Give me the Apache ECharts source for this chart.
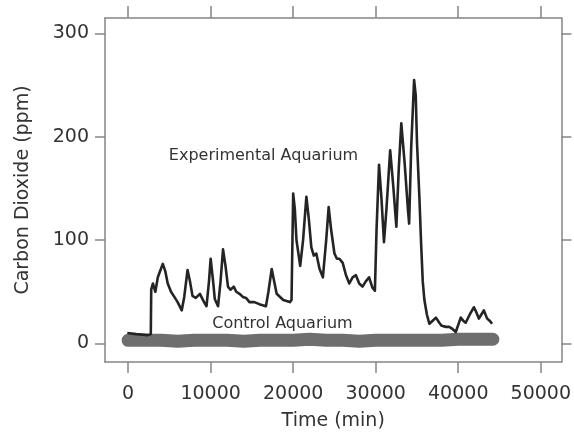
<!DOCTYPE html>
<html>
<head>
<meta charset="utf-8">
<script src="https://cdn.jsdelivr.net/npm/echarts@6/dist/echarts.min.js"></script>
<style>
  html, body { margin: 0; padding: 0; background: #fff; }
  #main { width: 574px; height: 438px; }
</style>
</head>
<body>
<div id="main"></div>
<script>
// 坐标刻度
const xTicks = [0, 10000, 20000, 30000, 40000, 50000];
const yTicks = [0, 100, 200, 300];

// Experimental Aquarium: [时间(min), CO2(ppm)]
const expTime = [-100, 1000, 2400, 2750, 2800, 3000, 3300, 3600, 4200, 4500, 4800, 5200,
  5600, 6000, 6500, 6800, 7200, 7500, 7800, 8200, 8700, 9200, 9500, 9800, 10000, 10300,
  10500, 10900, 11200, 11500, 11800, 12100, 12400, 12800, 13100, 13500, 13900, 14300,
  14700, 15300, 15900, 16700, 17000, 17400, 17700, 18000, 18800, 19600, 19800, 20000,
  20200, 20400, 20850, 21200, 21600, 21900, 22200, 22500, 22800, 23200, 23600, 24000,
  24300, 24600, 25000, 25300, 25600, 26000, 26400, 26800, 27200, 27600, 28000, 28400,
  28800, 29200, 29600, 29900, 30100, 30400, 30700, 31000, 31300, 31750, 32100, 32500,
  32800, 33100, 33500, 33900, 34050, 34300, 34650, 34850, 35000, 35300, 35500, 35700,
  35900, 36200, 36500, 36900, 37300, 37700, 38000, 38500, 38900, 39300, 39700, 40000,
  40300, 40600, 40900, 41400, 41900, 42200, 42500, 42800, 43100, 43500, 43800, 44100];
const expCO2 = [10, 9, 8, 9, 52, 58, 50, 64, 77, 70, 58, 50,
  45, 40, 32, 45, 71, 60, 46, 44, 48, 40, 36, 60, 82, 60,
  43, 36, 60, 91, 75, 55, 52, 55, 50, 48, 45, 44,
  40, 40, 38, 36, 50, 72, 60, 48, 42, 40, 42, 145,
  130, 100, 75, 100, 142, 120, 93, 85, 87, 72, 64, 100,
  132, 110, 87, 82, 82, 78, 66, 58, 64, 66, 58, 55,
  60, 64, 54, 51, 110, 173, 140, 98, 130, 187, 155, 113,
  170, 213, 175, 130, 116, 190, 255, 240, 195, 140, 97, 60,
  42, 28, 19, 22, 25, 20, 17, 16, 16, 14, 11, 18,
  25, 22, 20, 28, 35, 30, 24, 28, 32, 24, 22, 19];

// Control Aquarium
const ctrlTime = [0, 2000, 4000, 6000, 8000, 10000, 12000, 14000, 16000, 18000, 20000,
  22000, 24000, 26000, 28000, 30000, 32000, 34000, 36000, 38000, 40000, 42000, 44200];
const ctrlCO2 = [3, 3, 3, 2, 3, 3, 3, 2, 3, 3, 3,
  4, 3, 3, 2, 3, 3, 3, 3, 3, 4, 4, 4];

const expData = expTime.map((t, i) => [t, expCO2[i]]);
const ctrlData = ctrlTime.map((t, i) => [t, ctrlCO2[i]]);

const frame = { lineStyle: { color: '#858585', width: 1.5 } };
const font = 'DejaVu Sans';
const plain = (v) => String(v);

let myChart = echarts.init(document.getElementById('main'));
myChart.setOption({
  animation: false,
  backgroundColor: '#fff',
  grid: { left: 105, top: 18, right: 11, bottom: 76 },
  xAxis: [
    {
      type: 'value', min: -2800, max: 52500, position: 'bottom',
      name: 'Time (min)', nameLocation: 'middle', nameGap: 50,
      nameTextStyle: { fontFamily: font, fontSize: 19, color: '#333' },
      axisLine: { show: true, onZero: false, ...frame },
      axisTick: { show: true, customValues: xTicks, length: 11, ...frame },
      axisLabel: { customValues: xTicks, formatter: plain, margin: 23, fontFamily: font, fontSize: 19, color: '#333' },
      splitLine: { show: false }
    },
    {
      type: 'value', min: -2800, max: 52500, position: 'top',
      axisLine: { show: true, onZero: false, ...frame },
      axisTick: { show: true, customValues: xTicks, length: 12, ...frame },
      axisLabel: { show: false },
      splitLine: { show: false }
    }
  ],
  yAxis: [
    {
      type: 'value', min: -18, max: 315, position: 'left',
      name: 'Carbon Dioxide (ppm)', nameLocation: 'middle', nameGap: 72,
      nameTextStyle: { fontFamily: font, fontSize: 19, color: '#333' },
      axisLine: { show: true, onZero: false, ...frame },
      axisTick: { show: true, customValues: yTicks, length: 10, ...frame },
      axisLabel: { customValues: yTicks, formatter: plain, margin: 16, fontFamily: font, fontSize: 19, color: '#333' },
      splitLine: { show: false }
    },
    {
      type: 'value', min: -18, max: 315, position: 'right',
      axisLine: { show: true, onZero: false, ...frame },
      axisTick: { show: true, customValues: yTicks, length: 10, ...frame },
      axisLabel: { show: false },
      splitLine: { show: false }
    }
  ],
  series: [
    {
      name: 'Control Aquarium',
      type: 'line',
      data: ctrlData,
      showSymbol: false,
      symbol: 'none',
      lineStyle: { color: '#6e6e6e', width: 13, cap: 'round', join: 'round' },
      markPoint: {
        symbol: 'circle', symbolSize: 1,
        itemStyle: { color: 'rgba(0,0,0,0)' },
        label: { show: true, position: 'inside', formatter: 'Control Aquarium',
          fontFamily: font, fontSize: 16, color: '#333' },
        data: [{ coord: [18700, 19] }]
      }
    },
    {
      name: 'Experimental Aquarium',
      type: 'line',
      data: expData,
      showSymbol: false,
      symbol: 'none',
      lineStyle: { color: '#242424', width: 2.6, join: 'round' },
      markPoint: {
        symbol: 'circle', symbolSize: 1,
        itemStyle: { color: 'rgba(0,0,0,0)' },
        label: { show: true, position: 'inside', formatter: 'Experimental Aquarium',
          fontFamily: font, fontSize: 16, color: '#333' },
        data: [{ coord: [16400, 182] }]
      }
    }
  ]
});
</script>
</body>
</html>
